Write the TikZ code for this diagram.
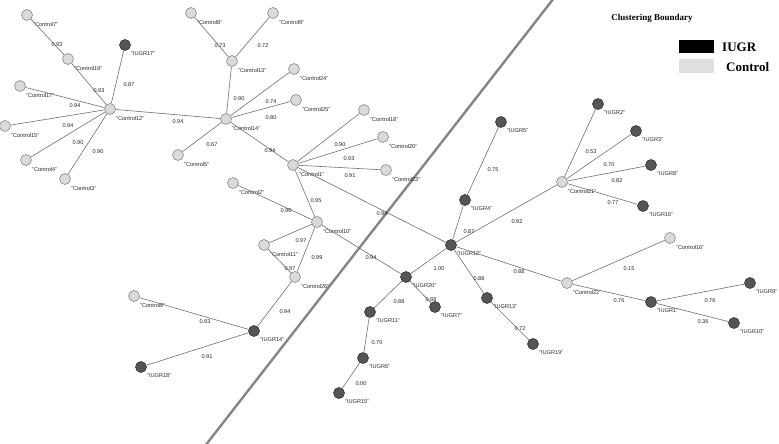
\documentclass[tikz,border=0pt]{standalone}
\usepackage{fontspec}
\setmainfont{Liberation Sans}
\newfontfamily\legfont{Liberation Serif}
\definecolor{ctrlfill}{HTML}{DADADA}
\definecolor{ctrldraw}{HTML}{8A8A8A}
\definecolor{iugrfill}{HTML}{555555}
\definecolor{iugrdraw}{HTML}{333333}
\definecolor{edgec}{HTML}{6E6E6E}
\definecolor{boundc}{HTML}{858585}
\definecolor{legctrl}{HTML}{E0E0E0}
\tikzset{
  nbase/.style={circle, minimum size=11pt, inner sep=0pt, line width=0.6pt},
  ctrl/.style={nbase, fill=ctrlfill, draw=ctrldraw},
  iugr/.style={nbase, fill=iugrfill, draw=iugrdraw},
  lab/.style={font=\fontsize{5.6}{6}\selectfont, inner sep=0pt, text=black!85, anchor=west},
  elab/.style={font=\fontsize{5.6}{6}\selectfont, inner sep=0pt, text=black!85},
  link/.style={draw=edgec, line width=0.6pt},
  boundline/.style={draw=boundc, line width=2.4pt},
  legtxt/.style={font=\legfont\bfseries\fontsize{13}{14}\selectfont, inner sep=0pt, anchor=west},
  legbox/.style={minimum width=35pt, minimum height=13.5pt, inner sep=0pt},
}
\newcommand\mycn[4]{\node[ctrl] (#1) at (#2,#3) {};
  \node[lab] (#1l) at ([shift={(6,9)}]#1.center) {"#4"};}
\newcommand\myin[4]{\node[iugr] (#1) at (#2,#3) {};
  \node[lab] (#1l) at ([shift={(6,9)}]#1.center) {"#4"};}
\begin{document}
\begin{tikzpicture}[x=1pt,y=-1pt]
\useasboundingbox (0,0) rectangle (779,444);
% boundary
\coordinate (b1) at (205,446);
\coordinate (b2) at (554,-2);
\draw[boundline] (b1) -- (b2);
% nodes
\mycn{c7}{27}{15}{Control7}
\mycn{c19}{68}{59}{Control19}
\myin{i17}{125}{45}{IUGR17}
\mycn{c17}{20}{86}{Control17}
\mycn{c12}{110}{109}{Control12}
\mycn{c15}{5}{126}{Control15}
\mycn{c4}{26}{160}{Control4}
\mycn{c3}{65}{179}{Control3}
\mycn{c8}{191}{13}{Control8}
\mycn{c9}{273}{13}{Control9}
\mycn{c13}{232}{61}{Control13}
\mycn{c24}{294}{69}{Control24}
\mycn{c25}{296}{100}{Control25}
\mycn{c14}{226}{119}{Control14}
\mycn{c5}{178}{155}{Control5}
\mycn{c1}{293}{165}{Control1}
\mycn{c18}{364}{110}{Control18}
\mycn{c20}{383}{137}{Control20}
\mycn{c23}{386}{170}{Control23}
\mycn{c2}{233}{183}{Control2}
\mycn{c10}{317}{222}{Control10}
\mycn{c11}{264}{245}{Control11}
\mycn{c26}{295}{277}{Control26}
\mycn{c6}{134}{296}{Control6}
\myin{i14}{254}{331}{IUGR14}
\myin{i18}{141}{367}{IUGR18}
\myin{i12}{451}{245}{IUGR12}
\myin{i20}{406}{277}{IUGR20}
\myin{i11}{370}{312}{IUGR11}
\myin{i7}{435}{307}{IUGR7}
\myin{i13}{487}{298}{IUGR13}
\myin{i19}{533}{344}{IUGR19}
\myin{i6}{363}{358}{IUGR6}
\myin{i15}{339}{393}{IUGR15}
\myin{i5}{501}{122}{IUGR5}
\myin{i4}{465}{200}{IUGR4}
\myin{i2}{598}{104}{IUGR2}
\myin{i3}{636}{131}{IUGR3}
\myin{i8}{651}{165}{IUGR8}
\myin{i16}{643}{206}{IUGR16}
\mycn{c21}{562}{182}{Control21}
\mycn{c16}{670}{238}{Control16}
\mycn{c22}{567}{283}{Control22}
\myin{i1}{651}{302}{IUGR1}
\myin{i9}{750}{283}{IUGR9}
\myin{i10}{734}{323}{IUGR10}
% edges
\draw[link] (c7) -- (c19);
\draw[link] (c19) -- (c12);
\draw[link] (i17) -- (c12);
\draw[link] (c17) -- (c12);
\draw[link] (c15) -- (c12);
\draw[link] (c4) -- (c12);
\draw[link] (c3) -- (c12);
\draw[link] (c12) -- (c14);
\draw[link] (c8) -- (c13);
\draw[link] (c9) -- (c13);
\draw[link] (c13) -- (c14);
\draw[link] (c24) -- (c14);
\draw[link] (c25) -- (c14);
\draw[link] (c5) -- (c14);
\draw[link] (c14) -- (c1);
\draw[link] (c1) -- (c18);
\draw[link] (c1) -- (c20);
\draw[link] (c1) -- (c23);
\draw[link] (c1) -- (c10);
\draw[link] (c1) -- (i12);
\draw[link] (c2) -- (c10);
\draw[link] (c10) -- (c11);
\draw[link] (c10) -- (c26);
\draw[link] (c10) -- (i20);
\draw[link] (c11) -- (c26);
\draw[link] (c26) -- (i14);
\draw[link] (c6) -- (i14);
\draw[link] (i18) -- (i14);
\draw[link] (i12) -- (i20);
\draw[link] (i20) -- (i11);
\draw[link] (i20) -- (i7);
\draw[link] (i11) -- (i6);
\draw[link] (i6) -- (i15);
\draw[link] (i12) -- (i13);
\draw[link] (i13) -- (i19);
\draw[link] (i12) -- (c22);
\draw[link] (i12) -- (i4);
\draw[link] (i4) -- (i5);
\draw[link] (i12) -- (c21);
\draw[link] (c21) -- (i2);
\draw[link] (c21) -- (i3);
\draw[link] (c21) -- (i8);
\draw[link] (c21) -- (i16);
\draw[link] (c22) -- (c16);
\draw[link] (c22) -- (i1);
\draw[link] (i1) -- (i9);
\draw[link] (i1) -- (i10);
% edge labels
\node[elab] (e1) at (57,45) {0.93};
\node[elab] (e2) at (99,91) {0.93};
\node[elab] (e3) at (129,85) {0.87};
\node[elab] (e4) at (75,106) {0.94};
\node[elab] (e5) at (68,126) {0.94};
\node[elab] (e6) at (78,143) {0.90};
\node[elab] (e7) at (98,152) {0.90};
\node[elab] (e8) at (178,122) {0.94};
\node[elab] (e9) at (220,46) {0.73};
\node[elab] (e10) at (263,46) {0.72};
\node[elab] (e11) at (239,99) {0.90};
\node[elab] (e12) at (271,102) {0.74};
\node[elab] (e13) at (271,118) {0.80};
\node[elab] (e14) at (212,145) {0.67};
\node[elab] (e15) at (270,151) {0.94};
\node[elab] (e16) at (340,145) {0.90};
\node[elab] (e17) at (349,159) {0.93};
\node[elab] (e18) at (350,176) {0.91};
\node[elab] (e19) at (316,201) {0.95};
\node[elab] (e20) at (382,214) {0.94};
\node[elab] (e21) at (286,211) {0.90};
\node[elab] (e22) at (301,241) {0.97};
\node[elab] (e23) at (317,258) {0.99};
\node[elab] (e24) at (371,258) {0.94};
\node[elab] (e25) at (290,269) {0.97};
\node[elab] (e26) at (285,312) {0.94};
\node[elab] (e27) at (205,322) {0.93};
\node[elab] (e28) at (207,357) {0.91};
\node[elab] (e29) at (439,269) {1.00};
\node[elab] (e30) at (399,302) {0.88};
\node[elab] (e31) at (431,300) {0.88};
\node[elab] (e32) at (377,343) {0.70};
\node[elab] (e33) at (361,384) {0.00};
\node[elab] (e34) at (479,279) {0.88};
\node[elab] (e35) at (520,329) {0.72};
\node[elab] (e36) at (519,272) {0.88};
\node[elab] (e37) at (469,232) {0.87};
\node[elab] (e38) at (493,170) {0.75};
\node[elab] (e39) at (517,222) {0.92};
\node[elab] (e40) at (591,152) {0.53};
\node[elab] (e41) at (609,165) {0.70};
\node[elab] (e42) at (617,181) {0.82};
\node[elab] (e43) at (613,203) {0.77};
\node[elab] (e44) at (629,269) {0.15};
\node[elab] (e45) at (619,301) {0.76};
\node[elab] (e46) at (710,301) {0.76};
\node[elab] (e47) at (703,322) {0.36};
% legend
\node[font=\legfont\bfseries\fontsize{9}{10}\selectfont, inner sep=0pt] (lgt) at (652,18) {Clustering Boundary};
\node[legbox, fill=black] (lgi) at (696.5,46.5) {};
\node[legtxt] (lgit) at (722,47) {IUGR};
\node[legbox, fill=legctrl] (lgc) at (696.5,66) {};
\node[legtxt] (lgct) at (726,67) {Control};
\end{tikzpicture}
\end{document}
